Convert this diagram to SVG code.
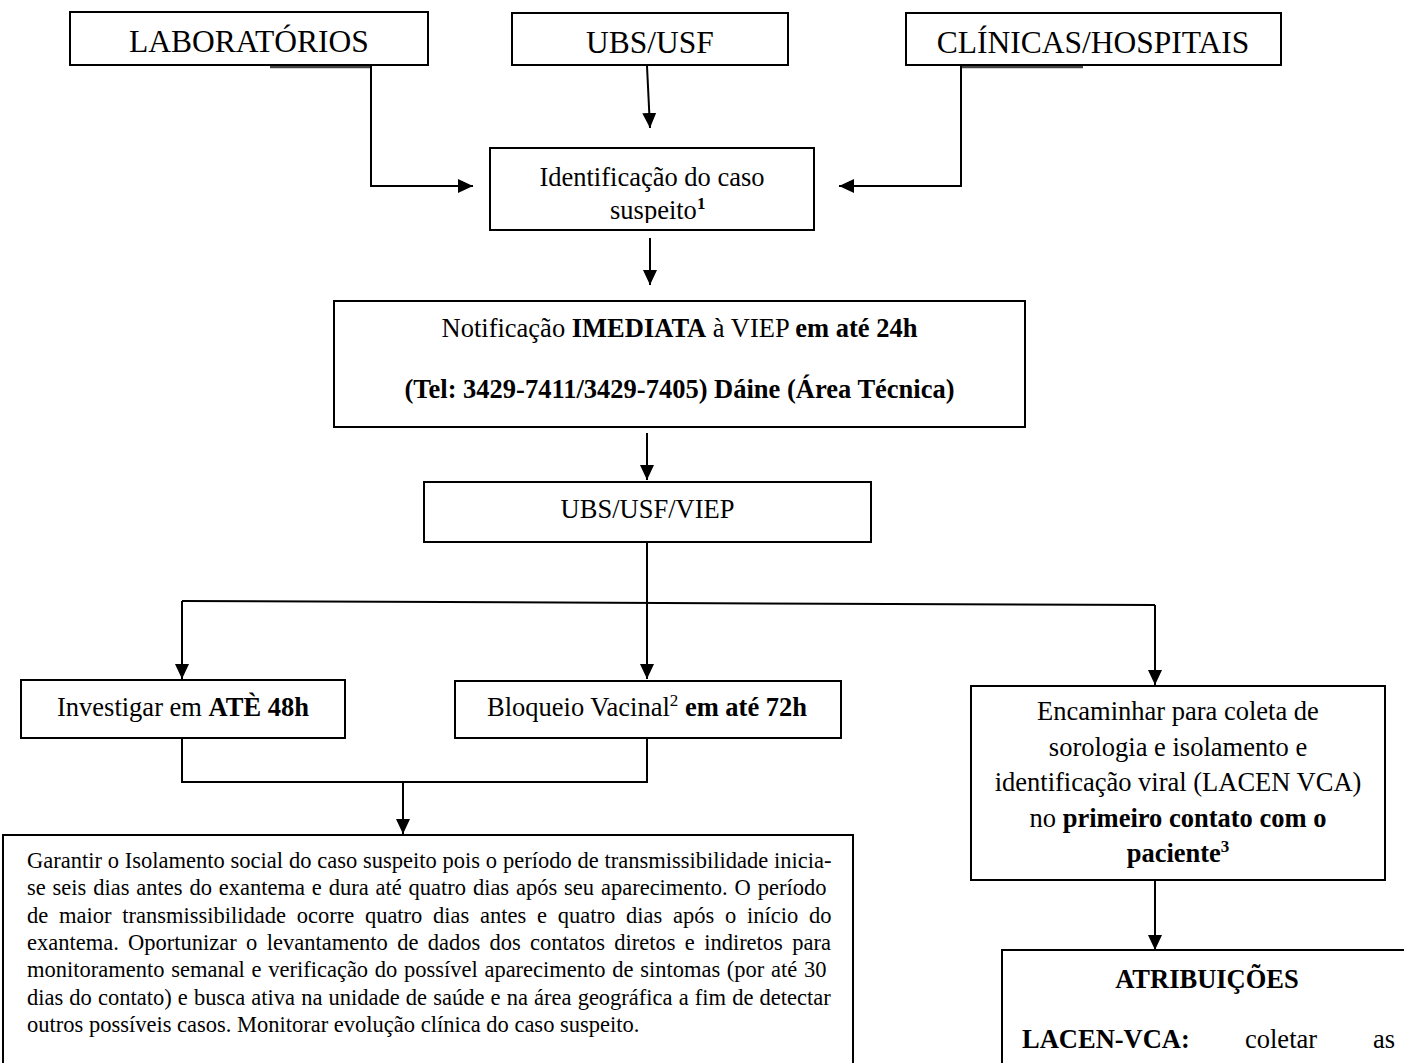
<svg xmlns="http://www.w3.org/2000/svg" width="1404" height="1063" viewBox="0 0 1404 1063">
<defs>
<marker id="ah" markerUnits="userSpaceOnUse" markerWidth="16" markerHeight="14" refX="15" refY="7" orient="auto"><path d="M0,0 L15,7 L0,14 Z" fill="#000"/></marker>
<clipPath id="clipIdent"><rect x="490" y="148" width="324" height="75"/></clipPath>
</defs>
<style>
.box{fill:#fff;stroke:#000;stroke-width:2}
.ln{fill:none;stroke:#000;stroke-width:2}
.sh{fill:none;stroke:#444;stroke-width:2.5}
text{font-family:"Liberation Serif","Times New Roman",serif;fill:#000}
.big{font-size:31.5px}
.t{font-size:26.5px}
.s{font-size:22.5px}
.b{font-weight:bold}
</style>
<rect width="1404" height="1063" fill="#fff"/>

<g id="connectors">
<path class="sh" d="M270,67 H371 M961,67 H1083"/>
<path class="ln" d="M371,66 V186 H473" marker-end="url(#ah)"/>
<path class="ln" d="M647,66 L650,128" marker-end="url(#ah)"/>
<path class="ln" d="M961,66 V186 H839" marker-end="url(#ah)"/>
<path class="ln" d="M650,238 V285" marker-end="url(#ah)"/>
<path class="ln" d="M647,433 V480" marker-end="url(#ah)"/>
<path class="ln" d="M182,601 L1155,605"/>
<path class="ln" d="M647,542 V679" marker-end="url(#ah)"/>
<path class="ln" d="M182,601 V679" marker-end="url(#ah)"/>
<path class="ln" d="M1155,605 V685" marker-end="url(#ah)"/>
<path class="ln" d="M182,738 V782 H647 V738"/>
<path class="ln" d="M403,782 V834" marker-end="url(#ah)"/>
<path class="ln" d="M1155,880 V950" marker-end="url(#ah)"/>
</g>

<g id="laboratorios">
<rect class="box" x="70" y="12" width="358" height="53"/>
<text class="big" x="249" y="52" text-anchor="middle">LABORATÓRIOS</text>
</g>
<g id="ubs-usf">
<rect class="box" x="512" y="13" width="276" height="52"/>
<text class="big" x="650" y="53" text-anchor="middle">UBS/USF</text>
</g>
<g id="clinicas-hospitais">
<rect class="box" x="906" y="13" width="375" height="52"/>
<text class="big" x="1093" y="53" text-anchor="middle">CLÍNICAS/HOSPITAIS</text>
</g>

<g id="identificacao">
<rect class="box" x="490" y="148" width="324" height="82"/>
<text class="t" x="652" y="186" text-anchor="middle">Identificação do caso</text>
<text class="t" x="610" y="219" clip-path="url(#clipIdent)">suspeito<tspan class="b" font-size="17" dy="-10">1</tspan></text>
</g>

<g id="notificacao">
<rect class="box" x="334" y="301" width="691" height="126"/>
<text class="t" x="679.5" y="337" text-anchor="middle">Notificação <tspan class="b">IMEDIATA</tspan> à VIEP <tspan class="b">em até 24h</tspan></text>
<text class="t b" x="679.5" y="398" text-anchor="middle">(Tel: 3429-7411/3429-7405) Dáine (Área Técnica)</text>
</g>

<g id="ubs-usf-viep">
<rect class="box" x="424" y="482" width="447" height="60"/>
<text class="t" x="647.5" y="518" text-anchor="middle">UBS/USF/VIEP</text>
</g>

<g id="investigar">
<rect class="box" x="21" y="680" width="324" height="58"/>
<text class="t" x="183" y="716" text-anchor="middle">Investigar em <tspan class="b">ATÈ 48h</tspan></text>
</g>

<g id="bloqueio">
<rect class="box" x="455" y="681" width="386" height="57"/>
<text class="t" x="487" y="716">Bloqueio Vacinal<tspan font-size="17" dy="-10">2</tspan><tspan class="b" dy="10"> em até 72h</tspan></text>
</g>

<g id="encaminhar">
<rect class="box" x="971" y="686" width="414" height="194"/>
<text class="t" x="1178" y="720" text-anchor="middle">Encaminhar para coleta de</text>
<text class="t" x="1178" y="756" text-anchor="middle">sorologia e isolamento e</text>
<text class="t" x="1178" y="791" text-anchor="middle">identificação viral (LACEN VCA)</text>
<text class="t" x="1178" y="827" text-anchor="middle">no <tspan class="b">primeiro contato com o</tspan></text>
<text class="t b" x="1178" y="862" text-anchor="middle">paciente<tspan font-size="17" dy="-10">3</tspan></text>
</g>

<g id="garantir">
<rect class="box" x="3" y="835" width="850" height="260"/>
<text class="s" x="27" y="868" word-spacing="0.18">Garantir o Isolamento social do caso suspeito pois o período de transmissibilidade inicia-</text>
<text class="s" x="27" y="895" word-spacing="1.23">se seis dias antes do exantema e dura até quatro dias após seu aparecimento. O período</text>
<text class="s" x="27" y="923" word-spacing="5.12">de maior transmissibilidade ocorre quatro dias antes e quatro dias após o início do</text>
<text class="s" x="27" y="950" word-spacing="3.67">exantema. Oportunizar o levantamento de dados dos contatos diretos e indiretos para</text>
<text class="s" x="27" y="977" word-spacing="1.05">monitoramento semanal e verificação do possível aparecimento de sintomas (por até 30</text>
<text class="s" x="27" y="1005" word-spacing="0.5">dias do contato) e busca ativa na unidade de saúde e na área geográfica a fim de detectar</text>
<text class="s" x="27" y="1032">outros possíveis casos. Monitorar evolução clínica do caso suspeito.</text>
</g>

<g id="atribuicoes">
<rect class="box" x="1002" y="950" width="420" height="140"/>
<text class="t b" x="1207" y="988" text-anchor="middle">ATRIBUIÇÕES</text>
<text class="t" y="1048"><tspan class="b" x="1022">LACEN-VCA:</tspan><tspan x="1245">coletar</tspan><tspan x="1373">as</tspan></text>
</g>
</svg>
